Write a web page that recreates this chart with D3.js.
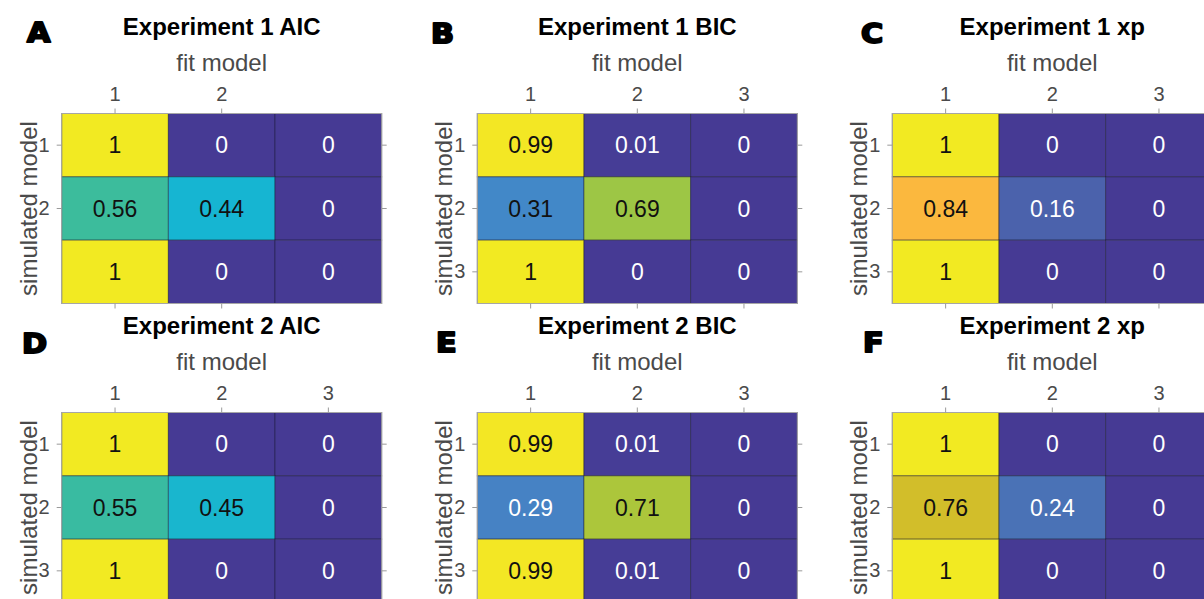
<!DOCTYPE html>
<html>
<head>
<meta charset="utf-8">
<script src="https://cdn.jsdelivr.net/npm/d3@7"></script>
<style>
  body { margin: 0; background: #fff; }
  svg { display: block; }
</style>
</head>
<body>
<svg id="chart" width="1204" height="599"></svg>
<script>
// Model recovery confusion matrices: rows = simulated model, columns = fit model
const modelIds = [1, 2, 3];

const exp1AIC = [[1, 0, 0], [0.56, 0.44, 0], [1, 0, 0]];
const exp1BIC = [[0.99, 0.01, 0], [0.31, 0.69, 0], [1, 0, 0]];
const exp1XP  = [[1, 0, 0], [0.84, 0.16, 0], [1, 0, 0]];
const exp2AIC = [[1, 0, 0], [0.55, 0.45, 0], [1, 0, 0]];
const exp2BIC = [[0.99, 0.01, 0], [0.29, 0.71, 0], [0.99, 0.01, 0]];
const exp2XP  = [[1, 0, 0], [0.76, 0.24, 0], [1, 0, 0]];

const panelLetters = ["A", "B", "C", "D", "E", "F"];
const panelTitles = [
  "Experiment 1 AIC", "Experiment 1 BIC", "Experiment 1 xp",
  "Experiment 2 AIC", "Experiment 2 BIC", "Experiment 2 xp"
];
const panelMatrices = [exp1AIC, exp1BIC, exp1XP, exp2AIC, exp2BIC, exp2XP];
// tick labels shown on each panel (panel A only labels the first two models)
const panelTicks = [[1, 2], [1, 2, 3], [1, 2, 3], [1, 2, 3], [1, 2, 3], [1, 2, 3]];

const xAxisTitle = "fit model";
const yAxisTitle = "simulated model";

// parula-like colour ramp
const colorStops = [0, 0.16, 0.24, 0.3, 0.44, 0.56, 0.7, 0.76, 0.84, 1];
const colorRamp  = ["#463a94", "#4b62ac", "#4a72b6", "#4585c7", "#16b5d2",
                    "#3cbc9c", "#a4c73e", "#d2be2a", "#fbb83e", "#f2ea22"];

const color = d3.scaleLinear().domain(colorStops).range(colorRamp);

// layout
const colLeft = [61.7, 477.3, 892.3];
const rowTop = [113.5, 412.5];
const W = 320, H = 190;
const letterPos = [[27, 42], [431, 43], [861, 43], [22, 353], [436, 352], [863, 352]];

const svg = d3.select("#chart");

panelMatrices.forEach((mat, i) => {
  const left = colLeft[i % 3];
  const top = rowTop[Math.floor(i / 3)];
  const g = svg.append("g").attr("transform", `translate(${left},${top})`);

  const x = d3.scaleBand().domain(modelIds).range([0, W]);
  const y = d3.scaleBand().domain(modelIds).range([0, H]);

  const cells = [];
  mat.forEach((row, r) => row.forEach((v, c) => cells.push({ sim: modelIds[r], fit: modelIds[c], v })));

  g.selectAll("rect.cell").data(cells).join("rect")
    .attr("class", "cell")
    .attr("x", d => x(d.fit))
    .attr("y", d => y(d.sim))
    .attr("width", x.bandwidth())
    .attr("height", y.bandwidth())
    .attr("fill", d => color(d.v))
    .attr("stroke", "rgba(20,20,45,0.45)")
    .attr("stroke-width", 1);

  g.selectAll("text.val").data(cells).join("text")
    .attr("class", "val")
    .attr("x", d => x(d.fit) + x.bandwidth() / 2)
    .attr("y", d => y(d.sim) + y.bandwidth() / 2)
    .attr("dy", "0.36em")
    .attr("text-anchor", "middle")
    .attr("font-family", "Liberation Sans, Arial, sans-serif")
    .attr("font-size", 23)
    .attr("fill", d => d.v < 0.3 ? "#ffffff" : "#111111")
    .text(d => d3.format("~g")(d.v));

  // outer box
  g.append("rect")
    .attr("width", W).attr("height", H)
    .attr("fill", "none")
    .attr("stroke", "#a6a6a6")
    .attr("stroke-width", 1);

  const ticks = panelTicks[i];
  const styleAxis = sel => {
    sel.select(".domain").remove();
    sel.selectAll(".tick line").attr("stroke", "#9a9a9a");
    sel.selectAll(".tick text")
      .attr("fill", "#4a4a4a")
      .attr("font-family", "Liberation Sans, Arial, sans-serif")
      .attr("font-size", 20);
  };

  g.append("g")
    .call(d3.axisTop(x).tickValues(ticks).tickSize(5).tickPadding(8))
    .call(styleAxis);
  g.append("g")
    .call(d3.axisLeft(y).tickValues(ticks).tickSize(5).tickPadding(7))
    .call(styleAxis);
  g.append("g").attr("transform", `translate(0,${H})`)
    .call(d3.axisBottom(x).tickValues(ticks).tickSize(5).tickFormat(""))
    .call(styleAxis);
  g.append("g").attr("transform", `translate(${W},0)`)
    .call(d3.axisRight(y).tickValues(ticks).tickSize(5).tickFormat(""))
    .call(styleAxis);

  // axis titles
  g.append("text")
    .attr("x", W / 2).attr("y", -43)
    .attr("text-anchor", "middle")
    .attr("font-family", "Liberation Sans, Arial, sans-serif")
    .attr("font-size", 24)
    .attr("fill", "#4a4a4a")
    .text(xAxisTitle);

  g.append("text")
    .attr("transform", `translate(-25,${H / 2}) rotate(-90)`)
    .attr("text-anchor", "middle")
    .attr("font-family", "Liberation Sans, Arial, sans-serif")
    .attr("font-size", 24)
    .attr("fill", "#4a4a4a")
    .text(yAxisTitle);

  // panel title
  g.append("text")
    .attr("x", W / 2).attr("y", -78.5)
    .attr("text-anchor", "middle")
    .attr("font-family", "Liberation Sans, Arial, sans-serif")
    .attr("font-weight", "bold")
    .attr("font-size", 24)
    .attr("fill", "#000")
    .text(panelTitles[i]);

  // panel letter
  svg.append("text")
    .attr("transform", `translate(${letterPos[i][0]},${letterPos[i][1]}) scale(1.12,1)`)
    .attr("font-family", "DejaVu Sans, sans-serif")
    .attr("font-weight", "bold")
    .attr("font-size", 27)
    .attr("fill", "#000")
    .attr("stroke", "#000")
    .attr("stroke-width", 2)
    .attr("stroke-linejoin", "round")
    .text(panelLetters[i]);
});
</script>
</body>
</html>
